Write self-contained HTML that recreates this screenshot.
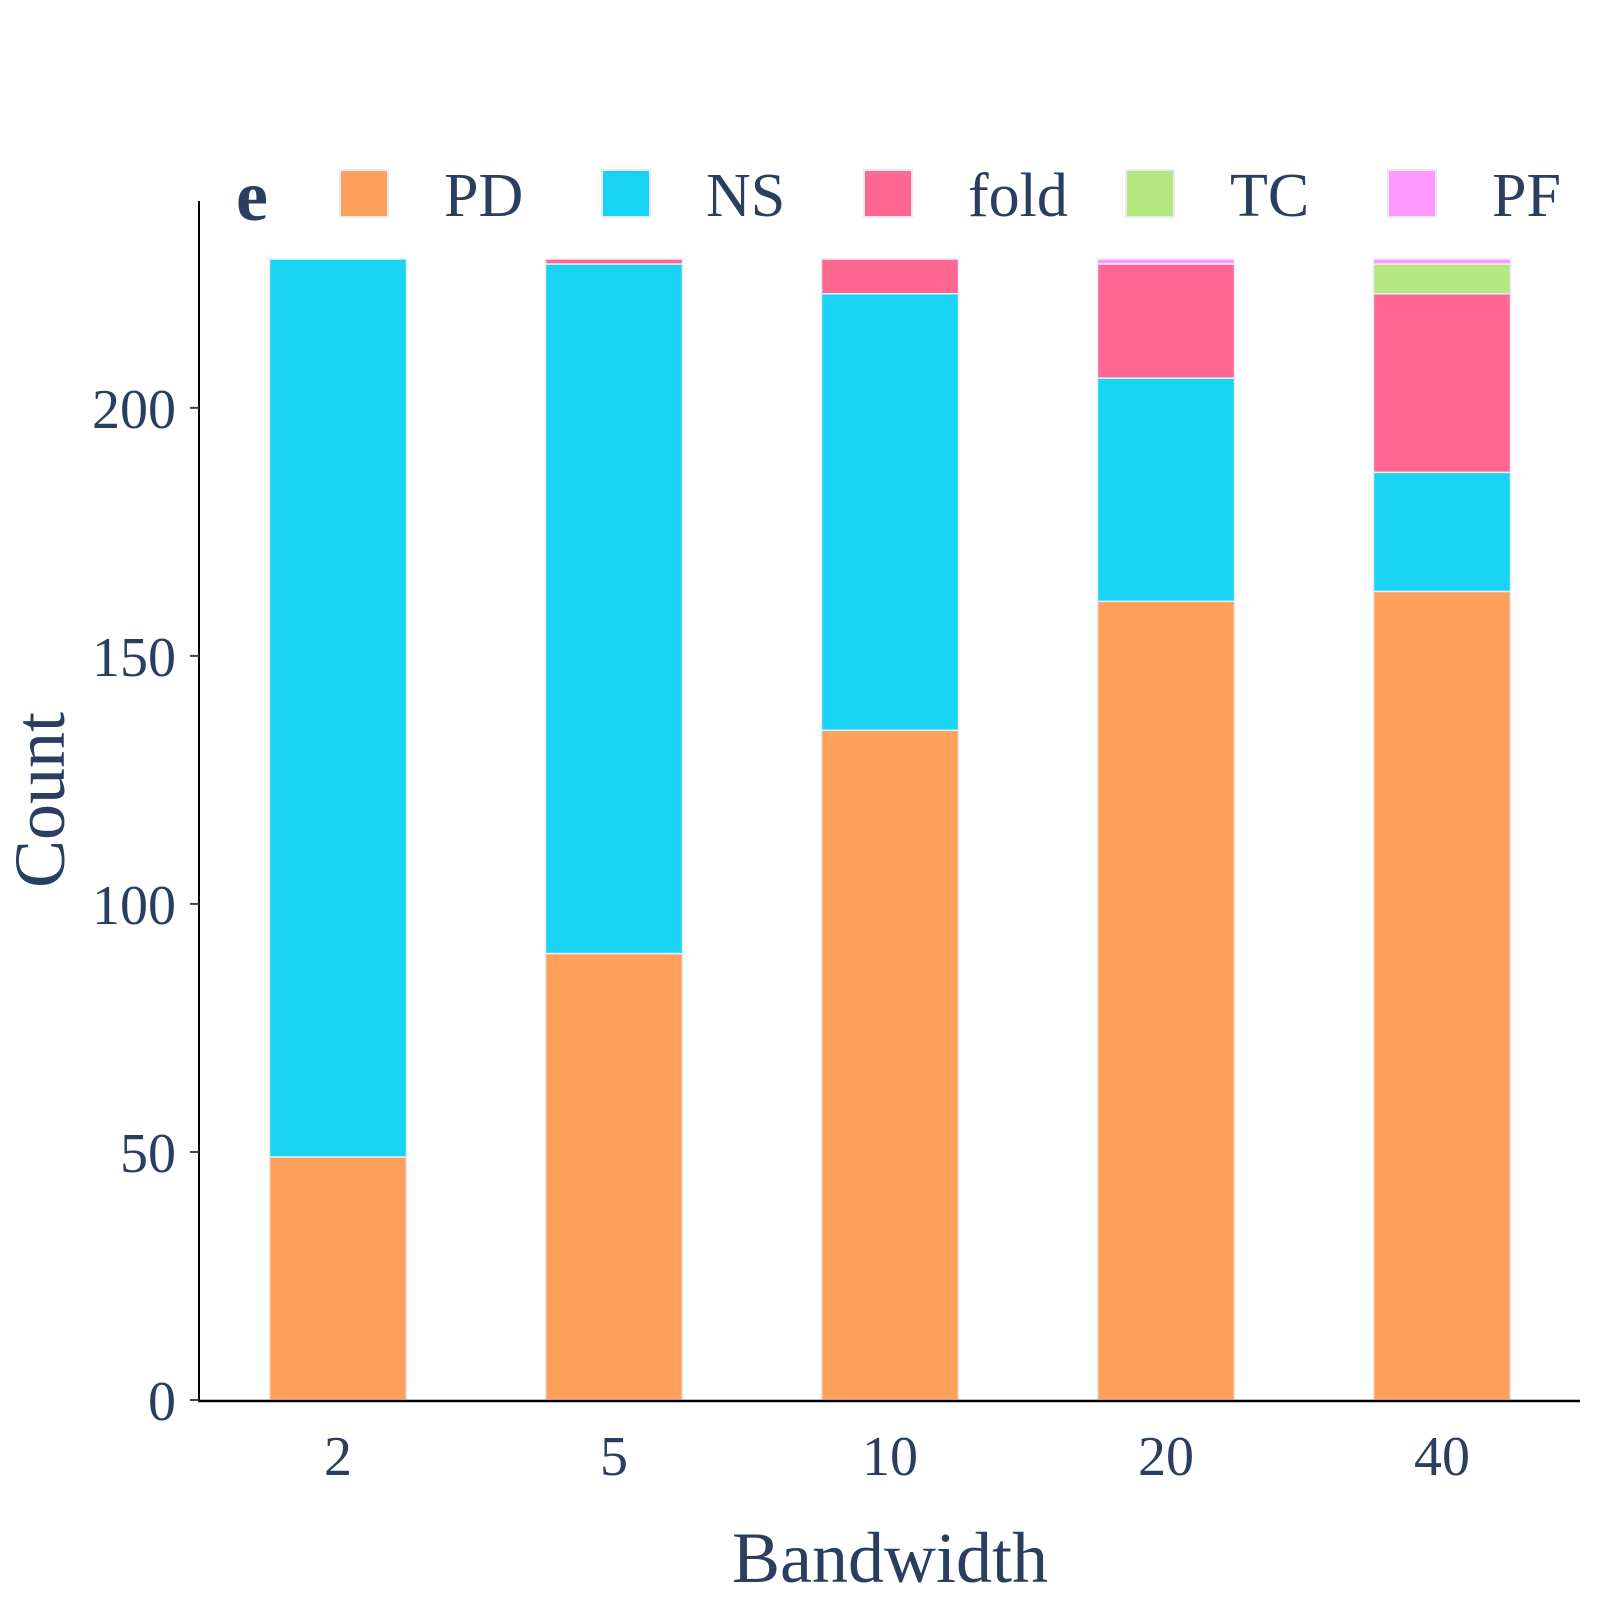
<!DOCTYPE html>
<html><head><meta charset="utf-8"><style>
html,body{margin:0;padding:0;background:#fff;}
svg{display:block;font-family:"Liberation Serif","DejaVu Serif",serif;}
</style></head><body>
<svg id="chart" width="1600" height="1600" viewBox="0 0 1600 1600">
<g id="bars"></g>
<g id="axes"></g>
<g id="legend"></g>
<text x="64" y="800" transform="rotate(-90 64 800)" text-anchor="middle" font-size="72" fill="#2a3f5f">Count</text>
<text x="890" y="1582" text-anchor="middle" font-size="72" fill="#2a3f5f">Bandwidth</text>
<text x="236" y="220" font-size="72" font-weight="bold" fill="#2a3f5f">e</text>
</svg>
<script>
const categories = ["2","5","10","20","40"];
const seriesNames = ["PD","NS","fold","TC","PF"];
const seriesColors = ["#ffa15a","#19d3f3","#ff6692","#b6e880","#ff97ff"];
const PD = [49, 90, 135, 161, 163];
const NS = [181, 139, 88, 45, 24];
const fold = [0, 1, 7, 23, 36];
const TC = [0, 0, 0, 0, 6];
const PF = [0, 0, 0, 1, 1];
const yTicks = [0, 50, 100, 150, 200];
const series = [PD, NS, fold, TC, PF];

const NS_ = "http://www.w3.org/2000/svg";
const x0 = 200, x1 = 1580, yBase = 1400, yTop = 201;
const yMax = 241.7;
const yScale = v => yBase - v * (yBase - yTop) / yMax;
const band = (x1 - x0) / categories.length;
const xCenter = i => x0 + band * (i + 0.5);
const barW = 137;

function mk(tag, attrs, parent){const e=document.createElementNS(NS_,tag);for(const k in attrs)e.setAttribute(k,attrs[k]);parent.appendChild(e);return e;}
const gBars = document.getElementById('bars');
categories.forEach((c,i)=>{
  let cum = 0;
  series.forEach((s,j)=>{
    const v = s[i];
    if(v<=0) return;
    const yA = yScale(cum), yB = yScale(cum+v);
    const r = mk('rect',{x:xCenter(i)-barW/2,y:yB,width:barW,height:yA-yB,fill:seriesColors[j],stroke:'#e5ecf6','stroke-width':1.5},gBars);
    
    
    cum += v;
  });
});
const gAx = document.getElementById('axes');
const yl = mk('line',{x1:x0-1,y1:yTop,x2:x0-1,y2:yBase+1,stroke:'#000','stroke-width':2},gAx);


const xl = mk('line',{x1:x0-2,y1:yBase+1,x2:x1,y2:yBase+1,stroke:'#000','stroke-width':2.5},gAx);


yTicks.forEach(t=>{
  const y = yScale(t);
  const tk = mk('line',{x1:x0-10,y1:y,x2:x0-1,y2:y,stroke:'#444','stroke-width':2},gAx);
  
  
  const tx = mk('text',{x:x0-24,y:y+20,'text-anchor':'end','font-size':56,fill:'#2a3f5f'},gAx);
  tx.textContent = t;
  
  
});
categories.forEach((c,i)=>{
  const tx = mk('text',{x:xCenter(i),y:1475,'text-anchor':'middle','font-size':56,fill:'#2a3f5f'},gAx);
  tx.textContent = c;
  
  
});
const gLeg = document.getElementById('legend');
seriesNames.forEach((n,j)=>{
  const lx = 340 + j*262;
  const sw = mk('rect',{x:lx,y:170,width:48,height:47,fill:seriesColors[j],stroke:'#e5ecf6','stroke-width':2},gLeg);
  
  
  const t = mk('text',{x:lx+104,y:216,'font-size':62,fill:'#2a3f5f'},gLeg);
  t.textContent = n;
  
  
});
</script>
</body></html>
